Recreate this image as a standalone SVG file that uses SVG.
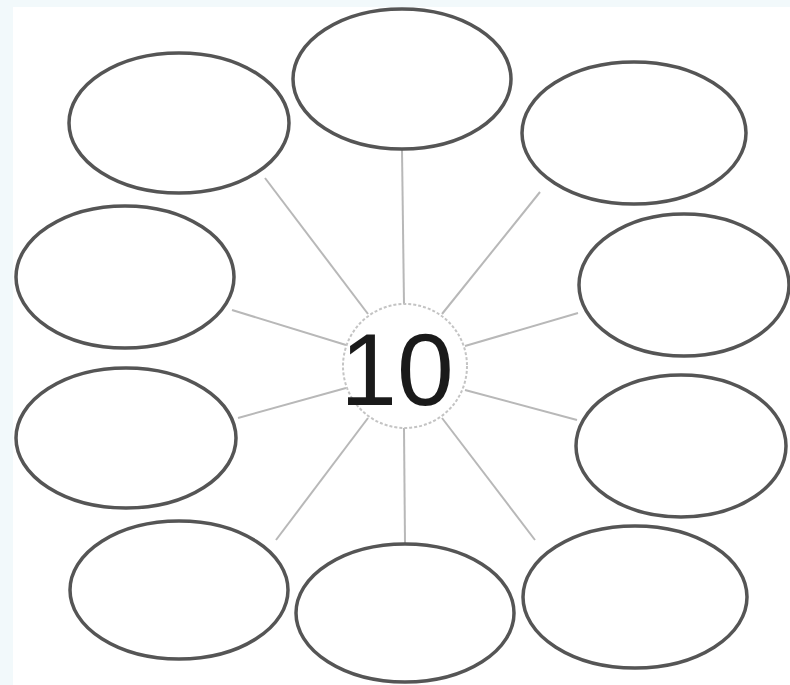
<svg xmlns="http://www.w3.org/2000/svg" width="790" height="685" viewBox="0 0 790 685">
<style>
.bub{fill:#ffffff;stroke:#555555;stroke-width:3.5}
.spoke{stroke:#b8b8b8;stroke-width:2;fill:none}
.hub{fill:#ffffff;stroke:#c4c4c4;stroke-width:2;stroke-dasharray:3 2}
.num{font-family:"Liberation Sans",Arial,sans-serif;font-size:102px;fill:#1a1a1a}
</style>
<rect x="0" y="0" width="790" height="685" fill="#f2f9fb"/>
<rect x="13" y="7" width="777" height="678" fill="#ffffff"/>
<g id="connectors">
<line class="spoke" x1="402" y1="150" x2="404" y2="304"/>
<line class="spoke" x1="404" y1="428" x2="405" y2="543"/>
<line class="spoke" x1="265" y1="178" x2="368" y2="314"/>
<line class="spoke" x1="540" y1="192" x2="442" y2="314"/>
<line class="spoke" x1="232" y1="310" x2="346" y2="345"/>
<line class="spoke" x1="578" y1="313" x2="465" y2="346"/>
<line class="spoke" x1="238" y1="418" x2="346" y2="388"/>
<line class="spoke" x1="577" y1="420" x2="465" y2="390"/>
<line class="spoke" x1="276" y1="540" x2="368" y2="418"/>
<line class="spoke" x1="535" y1="540" x2="442" y2="418"/>
</g>
<g id="n1"><ellipse class="bub" cx="179" cy="123" rx="110" ry="70"/></g>
<g id="n2"><ellipse class="bub" cx="402" cy="79" rx="109" ry="70"/></g>
<g id="n3"><ellipse class="bub" cx="634" cy="133" rx="112" ry="71"/></g>
<g id="n4"><ellipse class="bub" cx="125" cy="277" rx="109" ry="71"/></g>
<g id="n5"><ellipse class="bub" cx="684" cy="285" rx="105" ry="71"/></g>
<g id="n6"><ellipse class="bub" cx="126" cy="438" rx="110" ry="70"/></g>
<g id="n7"><ellipse class="bub" cx="681" cy="446" rx="105" ry="71"/></g>
<g id="n8"><ellipse class="bub" cx="179" cy="590" rx="109" ry="69"/></g>
<g id="n9"><ellipse class="bub" cx="405" cy="613" rx="109" ry="69"/></g>
<g id="n10"><ellipse class="bub" cx="635" cy="597" rx="112" ry="71"/></g>
<g id="center">
<circle class="hub" cx="405" cy="366" r="62"/>
<text class="num" x="397" y="405" text-anchor="middle">10</text>
</g>
</svg>
